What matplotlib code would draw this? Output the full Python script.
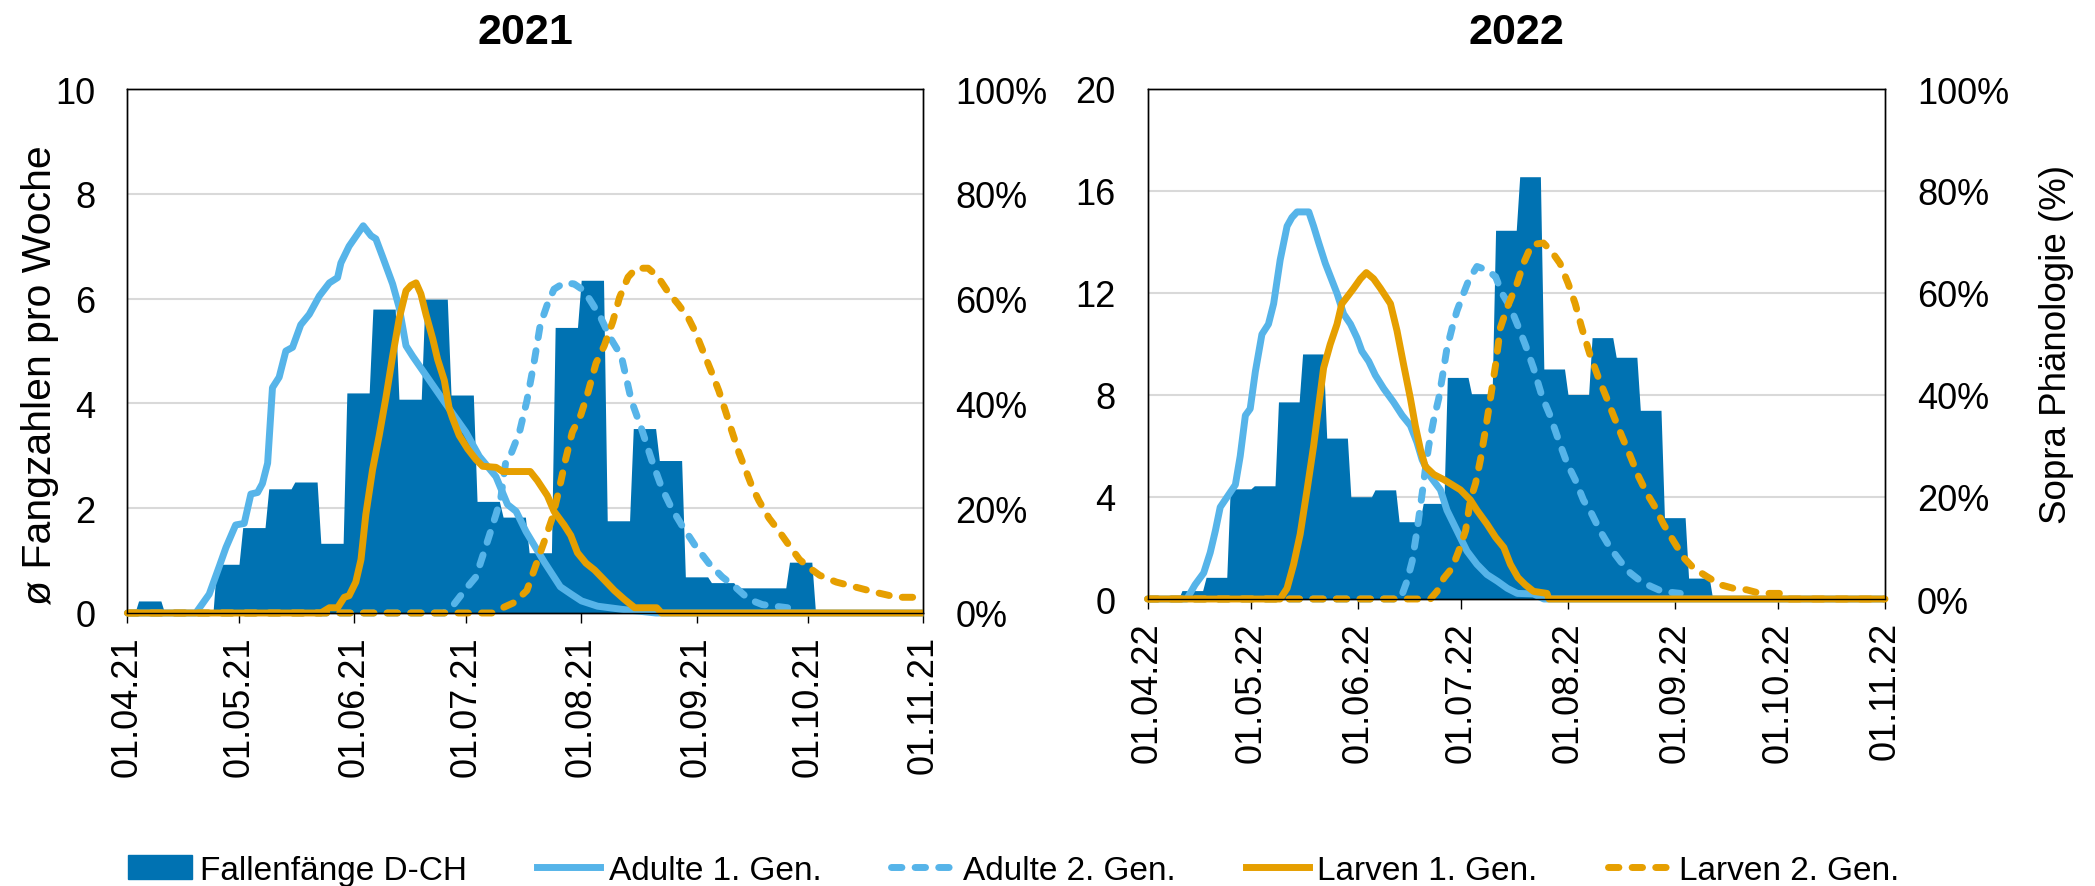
import numpy as np
import matplotlib
matplotlib.use('Agg')
import matplotlib.pyplot as plt
import matplotlib.dates as mdates
from matplotlib.patches import Patch
from matplotlib.lines import Line2D

plt.rcParams['font.family'] = ['Liberation Sans', 'DejaVu Sans']

C_BAR = '#0072B2'
C_ADULT = '#56B4E9'
C_LARV = '#E69F00'

# weekly trap catches (mean per week), weeks of 7 days starting at first_week
first_week_2021 = '2021-04-04'
catches_2021 = [0.23, 0, 0, 0.93, 1.63, 2.37, 2.5, 1.33, 4.2, 5.8, 4.08, 5.99, 4.16,
                2.13, 1.83, 1.15, 5.45, 6.35, 1.76, 3.52, 2.91, 0.69, 0.58, 0.48, 0.48, 0.97]
first_week_2022 = '2022-04-11'
catches_2022 = [0.33, 0.85, 4.32, 4.44, 7.73, 9.61, 6.31, 4.01, 4.28, 3.03, 3.75, 8.69,
                8.05, 14.46, 16.56, 9.02, 8.02, 10.25, 9.48, 7.40, 3.19, 0.82]

# SOPRA phenology (%), x = days after 1 April
a1_days_2021 = [0, 18.4, 22, 24.7, 26.5, 29.1, 31.4, 33.2, 35, 36.3, 37.7, 39, 40.8, 42.6, 44.4,
                46.6, 48.9, 51.6, 54.3, 56.5, 57.4, 59.6, 63.4, 65.5, 66.8, 68.6, 71.3, 73.1, 74.9,
                76.7, 81.2, 85.7, 91, 94.6, 99.1, 102.2, 104.5, 107.2, 112.1, 116.4, 119.3, 122.1,
                126.4, 132.9, 142.1, 214]
a1_pct_2021 = [0, 0, 3.6, 8.9, 12.5, 16.8, 17.1, 22.7, 23, 24.7, 28.6, 43, 45, 50, 50.7, 55, 57,
               60.5, 63, 64, 66.8, 70, 73.9, 72, 71.4, 68, 62.8, 58.2, 51, 49, 44.4, 39.8, 34.5,
               29.9, 26, 20.7, 19.4, 15.5, 9.7, 5.0, 3.6, 2.3, 1.3, 0.7, 0, 0]
a2_days_2021 = [0, 85.2, 87.4, 91, 93.7, 96.4, 99.1, 100.4, 101.8, 103.1, 105.4, 107.4, 109.3,
                111, 112.9, 114.7, 117.4, 120.1, 122.8, 125.1, 127.3, 130, 132.8, 135.5, 138.2,
                140.9, 143.6, 146.3, 149, 152.7, 156.3, 159.9, 163.5, 167.1, 170.7, 177.5]
a2_pct_2021 = [0, 0, 1.3, 4.6, 6.9, 12.8, 18.8, 22, 29.3, 30.3, 34.5, 40.5, 47.7, 55, 58.9, 61.8,
               63, 62.8, 61.5, 58.9, 56.3, 52.3, 49, 40.5, 35.2, 29.3, 24, 20, 16.8, 12.8, 9.5,
               6.9, 4.9, 2.6, 1.6, 1.0]
l1_days_2021 = [0, 52, 54.3, 56.5, 58.3, 59.6, 61.4, 62.8, 64.1, 65.9, 67.7, 69.5, 71.3, 73.1,
                74.9, 76.2, 77.6, 78.9, 80.3, 82.1, 83.4, 85.2, 86.5, 87.4, 89.2, 91.5, 93.7, 95.5,
                99.1, 100.9, 108.3, 110.2, 112.9, 114.7, 117.4, 119.2, 121, 123.3, 125.6, 128.2,
                130.9, 133.6, 136.4, 142.3, 143.6, 214]
l1_pct_2021 = [0, 0, 1, 1, 3, 3.3, 5.9, 10.2, 18.8, 27.3, 33.9, 41.1, 49, 56.3, 61.5, 62.5, 63,
               60.9, 56.9, 52.3, 48.4, 44.4, 39.1, 37.2, 33.9, 31.3, 29.3, 28, 27.8, 27, 27, 25.3,
               22.4, 19.4, 16.8, 14.8, 11.5, 9.5, 8.2, 6.3, 4.3, 2.6, 1, 1, 0, 0]
l2_days_2021 = [0, 98.2, 100.9, 104, 107.4, 109.7, 112, 114.2, 116, 117.8, 119.6, 121.9, 123.7,
                126, 128.2, 130.5, 132.3, 134.6, 136.8, 140, 142.7, 145.4, 148.1, 150.8, 152.7,
                154.9, 157.2, 159, 160.8, 162.6, 164.4, 166.2, 168, 169.8, 172.5, 175.3, 178,
                180.7, 183.4, 186.1, 190.6, 196, 201.4, 206.9, 214]
l2_pct_2021 = [0, 0, 1, 2, 4.3, 8.9, 13.5, 18.1, 23.4, 29.3, 34.5, 37.8, 41.8, 47.7, 51, 55.6,
               60.2, 64.1, 65.8, 65.8, 64.1, 61.2, 58.9, 56.3, 53.6, 49.7, 45.7, 42.4, 38.5, 34.5,
               30.6, 27.3, 24, 21.4, 18.1, 15.5, 12.8, 10.2, 8.6, 7.2, 5.9, 4.9, 3.9, 3, 3]

a1_days_2022 = [0, 11.4, 13.8, 16.3, 18.2, 19.7, 21.1, 23.5, 25.5, 26.9, 28.4, 29.8, 31.3, 33.2,
                35.1, 36.6, 38.5, 40.5, 41.9, 43.4, 46.8, 48.2, 49.7, 51.6, 53.5, 55, 56.9, 58.9,
                60.8, 62.2, 64.2, 66.1, 68.5, 71.4, 73.9, 76.3, 78.2, 79.7, 82.1, 85, 86.9, 89.8,
                92.7, 95.6, 98.5, 101.5, 104.4, 107.3, 112, 115, 214]
a1_pct_2022 = [0, 0, 2.8, 5.1, 9.1, 13.4, 18, 20.4, 22.4, 28, 36, 37.3, 44.6, 51.9, 53.9, 57.9,
               66.5, 73.1, 74.8, 75.9, 75.9, 73.1, 69.8, 65.8, 62.5, 59.9, 55.9, 53.9, 51.2, 48.6,
               46.6, 43.9, 41.3, 38.6, 36, 34, 30.7, 27.3, 24, 21.4, 17.4, 13.4, 9.4, 6.8, 4.8,
               3.5, 2.1, 1.1, 1.0, 0, 0]
a2_days_2022 = [0, 73.4, 75.3, 76.8, 78.2, 79.7, 80.6, 81.6, 83.1, 84.5, 85.5, 86.9, 88.4, 89.8,
                91.3, 93.2, 95.6, 98.5, 101, 102.9, 105.3, 107.7, 109.6, 112, 114.4, 116.8, 119.2,
                121.7, 124.1, 126.5, 128.9, 131.3, 134.2, 137.2, 140.1, 143.1, 146, 149.3, 154.6]
a2_pct_2022 = [0, 0, 3.5, 7.4, 13.4, 20.7, 25.3, 30, 35.3, 39.3, 43.3, 49.2, 53.2, 56.5, 59.2,
               62.5, 65.2, 64.5, 63.2, 59.9, 57.2, 53.2, 49.9, 45.3, 39.9, 36, 31.3, 26.7, 23.4,
               19.4, 16.7, 13.4, 10.1, 7.4, 5.1, 3.5, 2.5, 1.5, 1.1]
l1_days_2022 = [0, 38.5, 40.5, 42.4, 44.3, 46.3, 48.2, 49.7, 51.1, 53, 55, 56.4, 57.9, 59.8, 61.8,
                63.5, 65.6, 67.6, 70.5, 72.4, 74.3, 76.3, 77.7, 79.2, 80.6, 83.1, 86, 88.4, 90.8,
                93.7, 95.6, 98.5, 101, 103.4, 105.3, 107.5, 109.6, 112, 115.9, 116.5, 214]
l1_pct_2022 = [0, 0, 2.1, 6.8, 12.7, 21.4, 30, 38, 45.3, 49.9, 53.9, 57.9, 59.2, 60.9, 62.8, 64,
               62.8, 60.9, 57.9, 52.6, 46, 39.3, 34, 29.3, 26, 24.4, 23.4, 22.4, 21.4, 19.4, 17.4,
               14.7, 12.1, 10.1, 6.8, 4.2, 2.8, 1.5, 1.1, 0, 0]
l2_days_2022 = [0, 82.1, 84, 86, 88.4, 90.3, 92.3, 93.7, 95.2, 96.6, 98.1, 99.5, 101, 102.4,
                104.4, 107.2, 109.1, 111.5, 114.9, 117.3, 119.7, 122.1, 124.1, 126, 128.4, 130.9,
                133.3, 135.2, 137.6, 140.1, 142.5, 144.9, 147.3, 149.7, 152.6, 155.6, 158.4,
                162.3, 166.2, 170, 173.9, 177.8, 183.6, 184.5, 214]
l2_pct_2022 = [0, 0, 1.5, 4.1, 6.1, 9.4, 13.4, 19.4, 22.7, 27.3, 33.3, 39.3, 45.9, 53.2, 57.2,
               61.8, 65.8, 69.5, 69.8, 68.1, 65.8, 61.8, 57.9, 53.2, 47.9, 43.3, 39.3, 36, 32, 28,
               24, 20.7, 18, 14.7, 11.4, 8.1, 6.1, 4.4, 2.8, 2.1, 1.8, 1.1, 1.1, 0, 0]

labels = ['Fallenfänge D-CH', 'Adulte 1. Gen.', 'Adulte 2. Gen.', 'Larven 1. Gen.', 'Larven 2. Gen.']

LW = 5.0
DASH = (1.5, 1.9)


def day_num(year, days):
    return mdates.date2num(np.datetime64(f'{year}-04-01')) + np.asarray(days, float)


def catch_outline(first_week, values):
    starts = mdates.date2num(np.datetime64(first_week)) + 7 * np.arange(len(values))
    xs, ys = [starts[0] - 1], [0]
    for s, v in zip(starts, values):
        xs += [s, s + 6]
        ys += [v, v]
    xs.append(starts[-1] + 7)
    ys.append(0)
    return xs, ys


def panel(rect, year, first_week, catches, ymax, curves):
    ax = fig.add_axes(rect)
    xs, ys = catch_outline(first_week, catches)
    ax.fill_between(xs, ys, 0, color=C_BAR, lw=0)
    ax.set_ylim(0, ymax)
    ax.set_yticks(np.linspace(0, ymax, 6))
    ax.yaxis.grid(True, color='#D9D9D9', lw=1.5)
    ax.set_axisbelow(True)

    months = [np.datetime64(f'{year}-{m:02d}-01') for m in range(4, 12)]
    ax.set_xlim(mdates.date2num(months[0]), mdates.date2num(months[-1]))
    ax.set_xticks(mdates.date2num(months))
    ax.xaxis.set_major_formatter(mdates.DateFormatter('%d.%m.%y'))
    ax.tick_params(axis='x', direction='out', length=7, width=1, labelsize=26,
                   labelrotation=90, pad=9)
    ax.tick_params(axis='y', length=0, labelsize=26, pad=23)
    ax.set_title(str(year), fontsize=31, fontweight='bold', pad=33)

    ax2 = ax.twinx()
    for (d, p), col, ls in zip(curves, [C_ADULT, C_ADULT, C_LARV, C_LARV],
                               ['-', DASH, '-', DASH]):
        if ls == '-':
            ax2.plot(day_num(year, d), p, color=col, lw=LW, clip_on=False,
                     solid_capstyle='butt', solid_joinstyle='round')
        else:
            ax2.plot(day_num(year, d), p, color=col, lw=LW, clip_on=False,
                     dashes=ls, dash_capstyle='round')
    ax2.set_ylim(0, 100)
    ax2.set_yticks(np.arange(0, 101, 20))
    ax2.yaxis.set_major_formatter(plt.FuncFormatter(lambda v, pos: f'{int(v)}%'))
    ax2.tick_params(axis='y', length=0, labelsize=26, pad=23)
    for a in (ax, ax2):
        for s in a.spines.values():
            s.set_linewidth(1.0)
            s.set_color('black')
    return ax, ax2


fig = plt.figure(figsize=(20.95, 8.87), dpi=100)

panel([127.4 / 2095, 1 - 614 / 887, 796 / 2095, 524 / 887], 2021, first_week_2021,
      catches_2021, 10,
      [(a1_days_2021, a1_pct_2021), (a2_days_2021, a2_pct_2021),
       (l1_days_2021, l1_pct_2021), (l2_days_2021, l2_pct_2021)])
panel([1147.5 / 2095, 1 - 600 / 887, 737.5 / 2095, 510 / 887], 2022, first_week_2022,
      catches_2022, 20,
      [(a1_days_2022, a1_pct_2022), (a2_days_2022, a2_pct_2022),
       (l1_days_2022, l1_pct_2022), (l2_days_2022, l2_pct_2022)])

fig.text(40 / 2095, 1 - 375 / 887, 'ø Fangzahlen pro Woche', rotation=90,
         ha='center', va='center', fontsize=29.5)
fig.text(2057 / 2095, 1 - 345 / 887, 'Sopra Phänologie (%)', rotation=90,
         ha='center', va='center', fontsize=26.5)

handles = [Patch(color=C_BAR),
           Line2D([], [], color=C_ADULT, lw=LW),
           Line2D([], [], color=C_ADULT, lw=LW, dashes=DASH, dash_capstyle='round'),
           Line2D([], [], color=C_LARV, lw=LW),
           Line2D([], [], color=C_LARV, lw=LW, dashes=DASH, dash_capstyle='round')]
fig.legend(handles, labels, loc='center', bbox_to_anchor=(0.484, 0.018), ncol=5,
           frameon=False, fontsize=24, handlelength=1.9, handletextpad=0.25,
           columnspacing=2.1, borderpad=0)

fig.savefig('out.png', dpi=100)
